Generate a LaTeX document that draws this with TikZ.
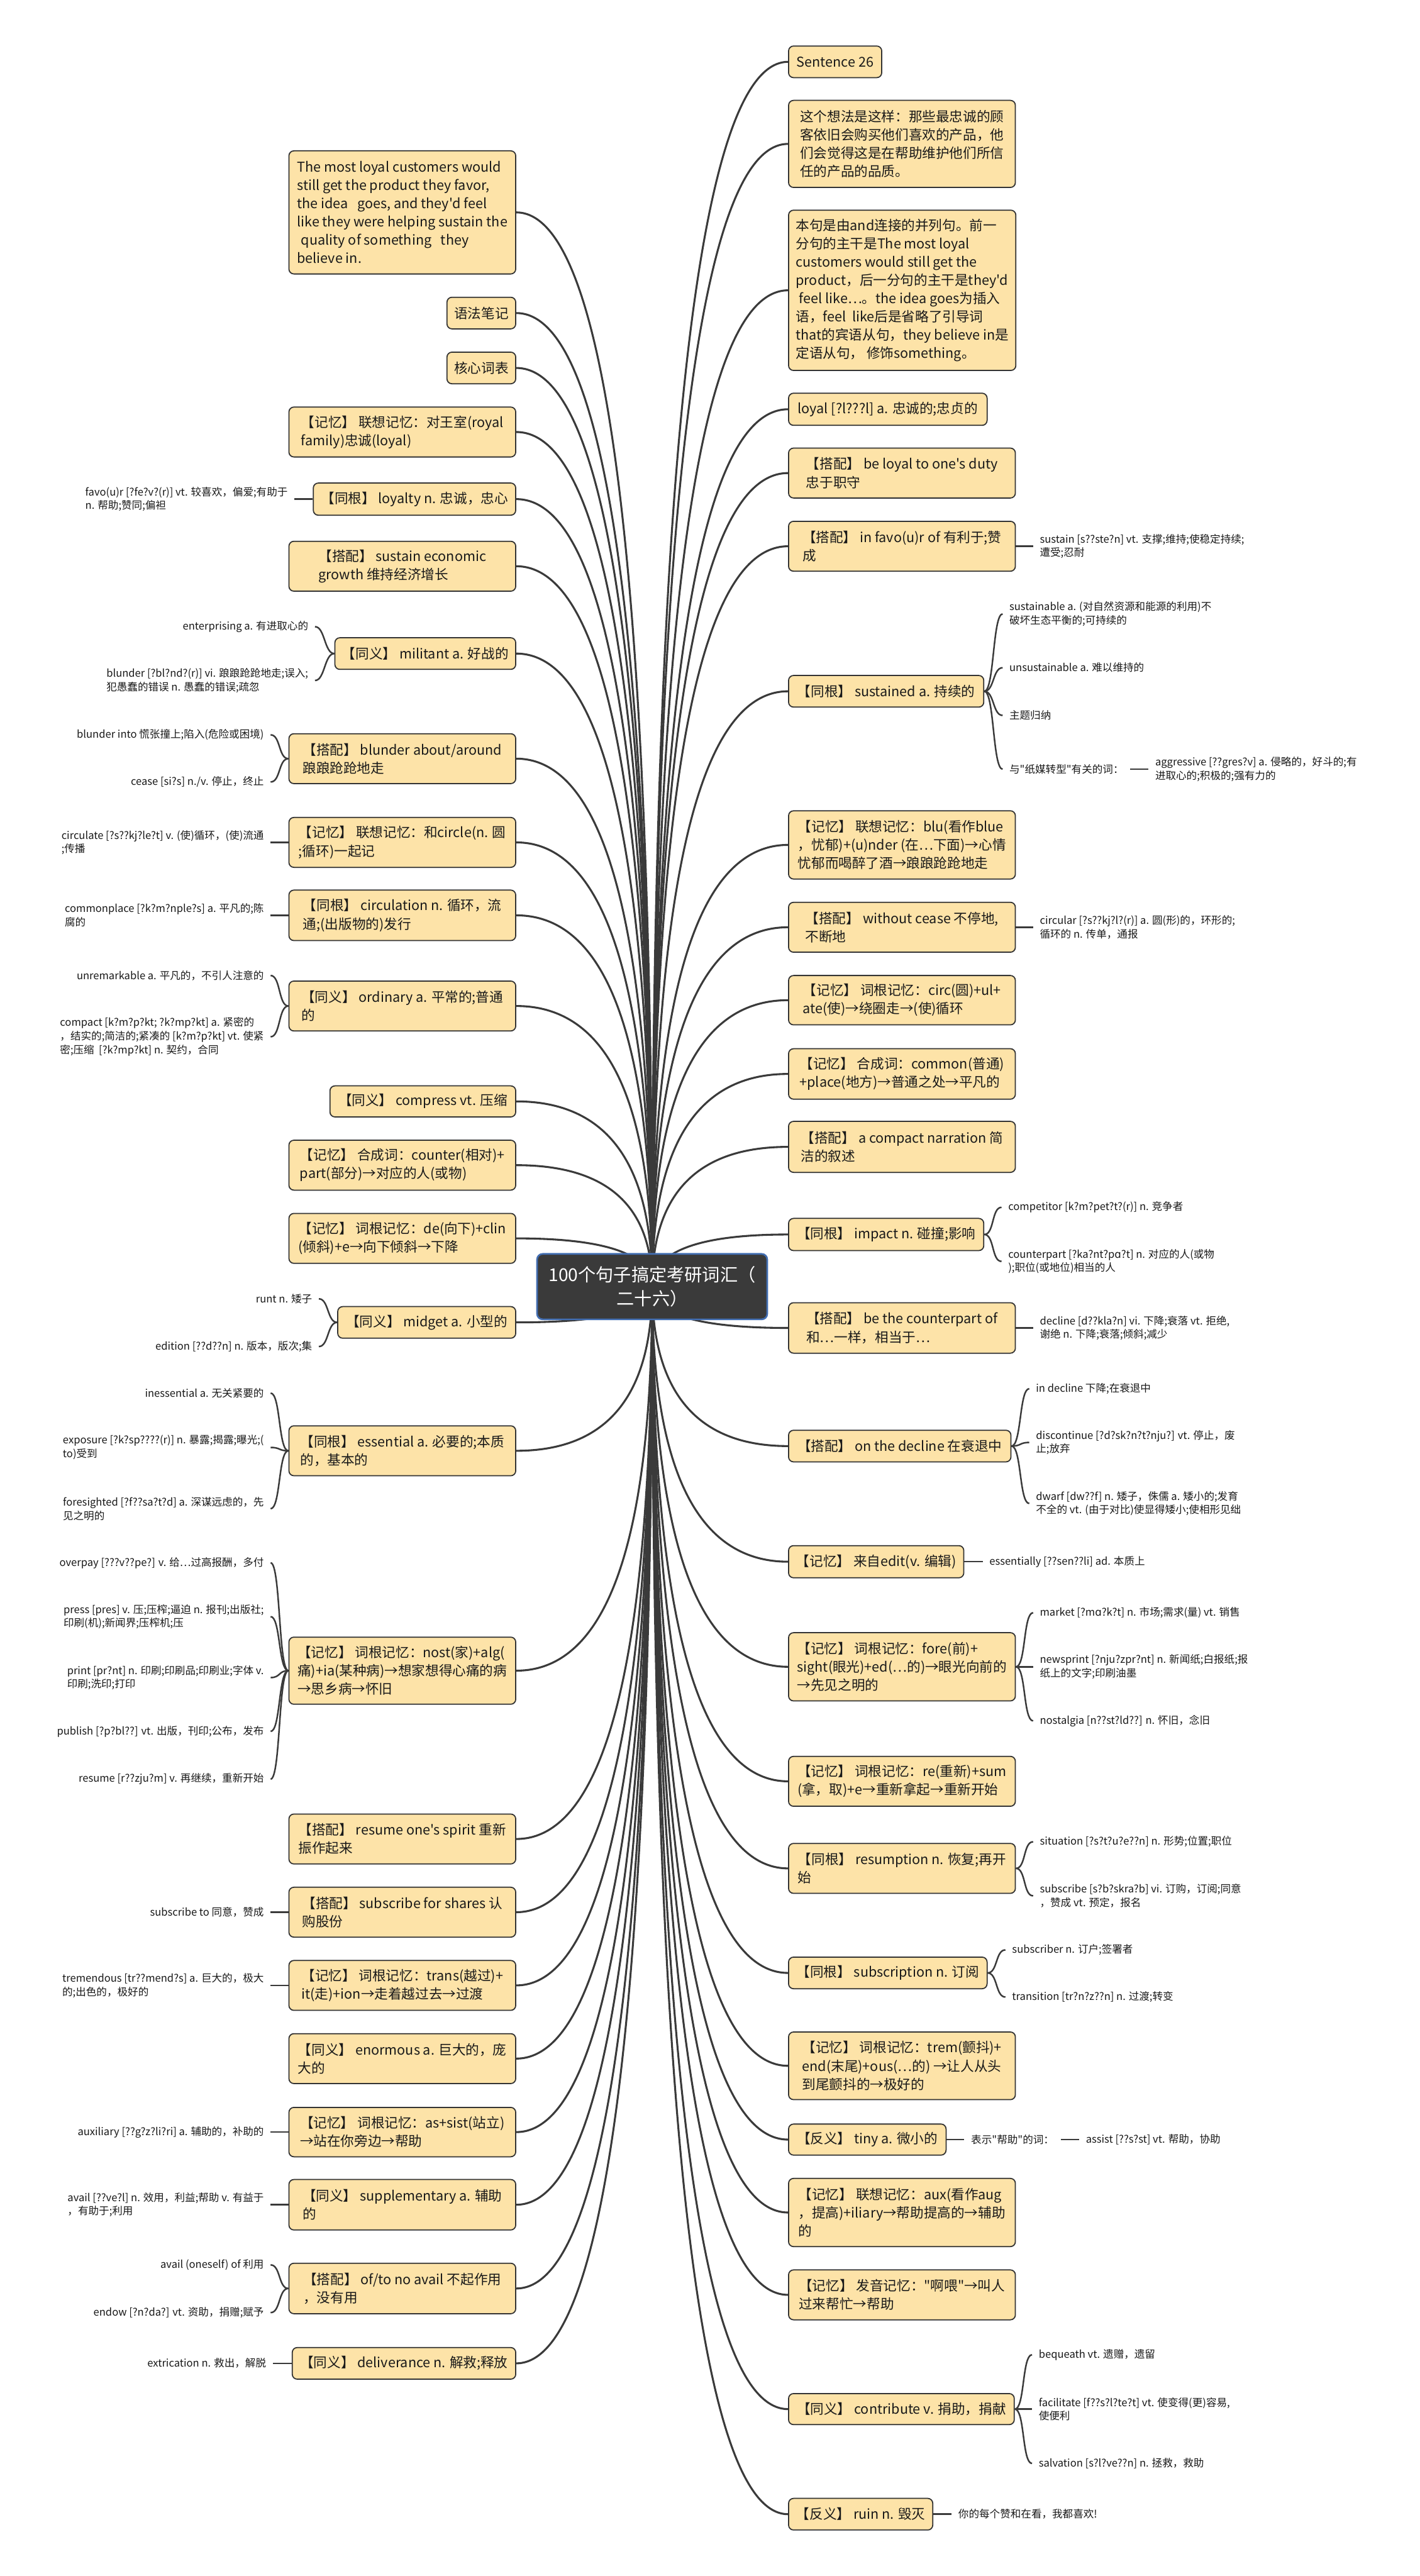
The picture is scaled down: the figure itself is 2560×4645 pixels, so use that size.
\documentclass[tikz,border=0pt]{standalone}
\usepackage{fontspec}
\setmainfont{Noto Sans CJK SC}[Ligatures=TeXOff]
\newfontfamily\ipa{DejaVu Sans}
\usetikzlibrary{calc}
\definecolor{boxfill}{RGB}{253,227,168}
\definecolor{boxline}{RGB}{51,51,51}
\definecolor{linecol}{RGB}{58,58,58}
\definecolor{rootfill}{RGB}{58,58,58}
\definecolor{rootline}{RGB}{66,110,178}
\definecolor{txt}{RGB}{25,25,25}
\pgfdeclarelayer{bg}
\pgfsetlayers{bg,main}
\tikzset{
  bx/.style={draw=boxline, line width=2pt, fill=boxfill, rounded corners=9pt, text=txt,
    font=\fontsize{24.5pt}{33pt}\selectfont, inner xsep=13pt, inner ysep=0pt, align=left},
  rb/.style={bx, anchor=west},
  lb/.style={bx, anchor=east},
  sz/.style 2 args={minimum width=#1pt, minimum height=#2pt},
  lf/.style={font=\fontsize{18.8pt}{24.7pt}\selectfont, text=txt, inner xsep=12pt, inner ysep=2pt, align=left},
  rl/.style={lf, anchor=west},
  ll/.style={lf, anchor=east},
  link/.style={draw=linecol, line width=3.5pt},
  llink/.style={draw=linecol, line width=2.8pt},
  rootst/.style={draw=rootline, line width=3pt, fill=rootfill, rounded corners=10pt, text=white,
    font=\fontsize{32pt}{43pt}\selectfont, align=center, minimum width=415pt, minimum height=118pt, inner sep=8pt}
}
\newcommand\trunk[1]{\draw[link] (root.center) .. controls ($(root.center)!0.6667!(root.center |- #1)$) and ($(#1)!0.6667!(root.center |- #1)$) .. (#1);}
\newcommand\lfr[2]{\draw[llink] (#1.east) .. controls +(18,0) and +(-18,0) .. (#2.west);}
\newcommand\lfl[2]{\draw[llink] (#1.west) .. controls +(-18,0) and +(18,0) .. (#2.east);}
\begin{document}
\begin{tikzpicture}[x=1pt,y=-1pt]
\useasboundingbox (0,0) rectangle (2560,4645);
\node[rootst] (root) at (1176,2320) {100个句子搞定考研词汇（\\二十六）};

% ---------- right boxes ----------
\node[rb,sz={168}{57}] (r1) at (1421,111.5) {Sentence 26};
\node[rb,sz={409}{157}] (r2) at (1421,259.5) {这个想法是这样：那些最忠诚的顾\\客依旧会购买他们喜欢的产品，他\\们会觉得这是在帮助维护他们所信\\任的产品的品质。};
\node[rb,sz={409}{289}] (r3) at (1421,523.5) {本句是由and连接的并列句。前一\\分句的主干是The most loyal\\customers would still get the\\product，后一分句的主干是they'd\\\hspace*{0.25em}feel like…。the idea goes为插入\\语，feel~~like后是省略了引导词\\that的宾语从句，they believe in是\\定语从句，~修饰something。};
\node[rb,sz={358}{58}] (r4) at (1421,738) {loyal [?l???l] a. 忠诚的;忠贞的};
\node[rb,sz={409}{90}] (r5) at (1421,853) {【搭配】 be loyal to one's duty\\忠于职守};
\node[rb,sz={409}{90}] (r6) at (1421,985) {【搭配】 in favo(u)r of 有利于;赞\\成};
\node[rb,sz={352}{57}] (r7) at (1421,1246.5) {【同根】 sustained a. 持续的};
\node[rb,sz={409}{123}] (r8) at (1421,1523.5) {【记忆】 联想记忆：blu(看作blue\\，忧郁)+(u)nder (在…下面)→心情\\忧郁而喝醉了酒→踉踉跄跄地走};
\node[rb,sz={409}{90}] (r9) at (1421,1672) {【搭配】 without cease 不停地,\\不断地};
\node[rb,sz={409}{89}] (r10) at (1421,1803.5) {【记忆】 词根记忆：circ(圆)+ul+\\ate(使)→绕圈走→(使)循环};
\node[rb,sz={409}{91}] (r11) at (1421,1936.5) {【记忆】 合成词：common(普通)\\+place(地方)→普通之处→平凡的};
\node[rb,sz={409}{92}] (r12) at (1421,2068) {【搭配】 a compact narration 简\\洁的叙述};
\node[rb,sz={352}{58}] (r13) at (1421,2226) {【同根】 impact n. 碰撞;影响};
\node[rb,sz={409}{91}] (r14) at (1421,2394.5) {【搭配】 be the counterpart of\\和…一样，相当于…};
\node[rb,sz={401}{57}] (r15) at (1421,2607.5) {【搭配】 on the decline 在衰退中};
\node[rb,sz={316}{58}] (r16) at (1421,2816) {【记忆】 来自edit(v. 编辑)};
\node[rb,sz={409}{123}] (r17) at (1421,3005.5) {【记忆】 词根记忆：fore(前)+\\sight(眼光)+ed(…的)→眼光向前的\\→先见之明的};
\node[rb,sz={409}{90}] (r18) at (1421,3212) {【记忆】 词根记忆：re(重新)+sum\\(拿，取)+e→重新拿起→重新开始};
\node[rb,sz={409}{90}] (r19) at (1421,3369) {【同根】 resumption n. 恢复;再开\\始};
\node[rb,sz={358}{57}] (r20) at (1421,3557.5) {【同根】 subscription n. 订阅};
\node[rb,sz={409}{122}] (r21) at (1421,3725) {【记忆】 词根记忆：trem(颤抖)+\\end(末尾)+ous(…的) →让人从头\\到尾颤抖的→极好的};
\node[rb,sz={284}{56}] (r22) at (1421,3858) {【反义】 tiny a. 微小的};
\node[rb,sz={409}{123}] (r23) at (1421,3989.5) {【记忆】 联想记忆：aux(看作aug\\，提高)+iliary→帮助提高的→辅助\\的};
\node[rb,sz={409}{90}] (r24) at (1421,4138) {【记忆】 发音记忆："啊喂"→叫人\\过来帮忙→帮助};
\node[rb,sz={407}{56}] (r25) at (1421,4344) {【同义】 contribute v. 捐助，捐献};
\node[rb,sz={260}{57}] (r26) at (1421,4533.5) {【反义】 ruin n. 毁灭};

% ---------- left boxes ----------
\node[lb,sz={409}{222}] (l1) at (931,383) {The most loyal customers would\\still get the product they favor,\\the idea~~~goes, and they'd feel\\like they were helping sustain the\\\hspace*{0.3em}quality of something~~~they\\believe in.};
\node[lb,sz={123}{57}] (l2) at (931,564.5) {语法笔记};
\node[lb,sz={123}{57}] (l3) at (931,663.5) {核心词表};
\node[lb,sz={409}{90}] (l4) at (931,779) {【记忆】 联想记忆：对王室(royal\\family)忠诚(loyal)};
\node[lb,sz={365}{58}] (l5) at (931,900) {【同根】 loyalty n. 忠诚，忠心};
\node[lb,sz={409}{90}] (l6) at (931,1021) {【搭配】 sustain economic\\growth 维持经济增长};
\node[lb,sz={326}{57}] (l7) at (931,1178.5) {【同义】 militant a. 好战的};
\node[lb,sz={409}{90}] (l8) at (931,1368) {【搭配】 blunder about/around\\踉踉跄跄地走};
\node[lb,sz={409}{90}] (l9) at (931,1519) {【记忆】 联想记忆：和circle(n. 圆\\;循环)一起记};
\node[lb,sz={409}{91}] (l10) at (931,1650.5) {【同根】 circulation n. 循环，流\\通;(出版物的)发行};
\node[lb,sz={409}{90}] (l11) at (931,1814) {【同义】 ordinary a. 平常的;普通\\的};
\node[lb,sz={335}{56}] (l12) at (931,1986) {【同义】 compress vt. 压缩};
\node[lb,sz={409}{90}] (l13) at (931,2101) {【记忆】 合成词：counter(相对)+\\part(部分)→对应的人(或物)};
\node[lb,sz={409}{90}] (l14) at (931,2233) {【记忆】 词根记忆：de(向下)+clin\\(倾斜)+e→向下倾斜→下降};
\node[lb,sz={321}{57}] (l15) at (931,2384.5) {【同义】 midget a. 小型的};
\node[lb,sz={409}{90}] (l16) at (931,2616) {【同根】 essential a. 必要的;本质\\的，基本的};
\node[lb,sz={409}{121}] (l17) at (931,3012.5) {【记忆】 词根记忆：nost(家)+alg(\\痛)+ia(某种病)→想家想得心痛的病\\→思乡病→怀旧};
\node[lb,sz={409}{90}] (l18) at (931,3316) {【搭配】 resume one's spirit 重新\\振作起来};
\node[lb,sz={409}{90}] (l19) at (931,3448) {【搭配】 subscribe for shares 认\\购股份};
\node[lb,sz={409}{90}] (l20) at (931,3580) {【记忆】 词根记忆：trans(越过)+\\it(走)+ion→走着越过去→过渡};
\node[lb,sz={409}{90}] (l21) at (931,3712) {【同义】 enormous a. 巨大的，庞\\大的};
\node[lb,sz={409}{89}] (l22) at (931,3844.5) {【记忆】 词根记忆：as+sist(站立)\\→站在你旁边→帮助};
\node[lb,sz={409}{91}] (l23) at (931,3975.5) {【同义】 supplementary a. 辅助\\的};
\node[lb,sz={409}{91}] (l24) at (931,4126.5) {【搭配】 of/to no avail 不起作用\\，没有用};
\node[lb,sz={403}{57}] (l25) at (931,4261.5) {【同义】 deliverance n. 解救;释放};

% ---------- right leaves ----------
\node[rl] (r6a) at (1863,985) {sustain [s??ste?n] vt. 支撑;维持;使稳定持续;\\遭受;忍耐};
\node[rl] (r7a) at (1808,1107) {sustainable a. (对自然资源和能源的利用)不\\破坏生态平衡的;可持续的};
\node[rl] (r7b) at (1808,1204) {unsustainable a. 难以维持的};
\node[rl] (r7c) at (1808,1290) {主题归纳};
\node[rl] (r7d) at (1808,1387) {与"纸媒转型"有关的词：};
\node[rl] (r7e) at (2071,1387) {aggressive [??gres?v] a. 侵略的，好斗的;有\\进取心的;积极的;强有力的};
\node[rl] (r9a) at (1863,1672) {circular [?s??kj?l?(r)] a. 圆(形)的，环形的;\\循环的 n. 传单，通报};
\node[rl] (r13a) at (1806,2177) {competitor [k?m?pet?t?(r)] n. 竞争者};
\node[rl] (r13b) at (1806,2274.5) {counterpart [?ka?nt?p{\ipa ɑ}?t] n. 对应的人(或物\\);职位(或地位)相当的人};
\node[rl] (r14a) at (1863,2394.5) {decline [d??kla?n] vi. 下降;衰落 vt. 拒绝,\\谢绝 n. 下降;衰落;倾斜;减少};
\node[rl] (r15a) at (1856,2504) {in decline 下降;在衰退中};
\node[rl] (r15b) at (1856,2601) {discontinue [?d?sk?n?t?nju?] vt. 停止，废\\止;放弃};
\node[rl] (r15c) at (1856,2711) {dwarf [dw??f] n. 矮子，侏儒 a. 矮小的;发育\\不全的 vt. (由于对比)使显得矮小;使相形见绌};
\node[rl] (r16a) at (1772,2816) {essentially [??sen??li] ad. 本质上};
\node[rl] (r17a) at (1863,2908) {market [?m{\ipa ɑ}?k?t] n. 市场;需求(量) vt. 销售};
\node[rl] (r17b) at (1863,3005.5) {newsprint [?nju?zpr?nt] n. 新闻纸;白报纸;报\\纸上的文字;印刷油墨};
\node[rl] (r17c) at (1863,3103) {nostalgia [n??st?ld??] n. 怀旧，念旧};
\node[rl] (r19a) at (1863,3321) {situation [?s?t?u?e??n] n. 形势;位置;职位};
\node[rl] (r19b) at (1863,3418.5) {subscribe [s?b?skra?b] vi. 订购，订阅;同意\\，赞成 vt. 预定，报名};
\node[rl] (r20a) at (1813,3516) {subscriber n. 订户;签署者};
\node[rl] (r20b) at (1813,3601) {transition [tr?n?z??n] n. 过渡;转变};
\node[rl] (r22a) at (1739,3858) {表示"帮助"的词：};
\node[rl] (r22b) at (1946,3858) {assist [??s?st] vt. 帮助，协助};
\node[rl] (r25a) at (1861,4246) {bequeath vt. 遗赠，遗留};
\node[rl] (r25b) at (1861,4344) {facilitate [f??s?l?te?t] vt. 使变得(更)容易,\\使便利};
\node[rl] (r25c) at (1861,4442) {salvation [s?l?ve??n] n. 拯救，救助};
\node[rl] (r26a) at (1716,4533.5) {你的每个赞和在看，我都喜欢!};

% ---------- left leaves ----------
\node[ll] (l5a) at (531,900) {favo(u)r [?fe?v?(r)] vt. 较喜欢，偏爱;有助于\\n. 帮助;赞同;偏袒};
\node[ll] (l7a) at (568,1130) {enterprising a. 有进取心的};
\node[ll] (l7b) at (568,1227) {blunder [?bl?nd?(r)] vi. 踉踉跄跄地走;误入;\\犯愚蠢的错误 n. 愚蠢的错误;疏忽};
\node[ll] (l8a) at (488,1325) {blunder into 慌张撞上;陷入(危险或困境)};
\node[ll] (l8b) at (488,1410) {cease [si?s] n./v. 停止，终止};
\node[ll] (l9a) at (488,1519) {circulate [?s??kj?le?t] v. (使)循环，(使)流通\\;传播};
\node[ll] (l10a) at (488,1650.5) {commonplace [?k?m?nple?s] a. 平凡的;陈\\腐的};
\node[ll] (l11a) at (488,1759) {unremarkable a. 平凡的，不引人注意的};
\node[ll] (l11b) at (488,1869.5) {compact [k?m?p?kt; ?k?mp?kt] a. 紧密的\\，结实的;简洁的;紧凑的 [k?m?p?kt] vt. 使紧\\密;压缩~~[?k?mp?kt] n. 契约，合同};
\node[ll] (l15a) at (575,2342) {runt n. 矮子};
\node[ll] (l15b) at (575,2428) {edition [??d??n] n. 版本，版次;集};
\node[ll] (l16a) at (488,2512) {inessential a. 无关紧要的};
\node[ll] (l16b) at (488,2610) {exposure [?k?sp????(r)] n. 暴露;揭露;曝光;(\\to)受到};
\node[ll] (l16c) at (488,2720.5) {foresighted [?f??sa?t?d] a. 深谋远虑的，先\\见之明的};
\node[ll] (l17a) at (488,2818) {overpay [???v??pe?] v. 给…过高报酬，多付};
\node[ll] (l17b) at (488,2915) {press [pres] v. 压;压榨;逼迫 n. 报刊;出版社;\\印刷(机);新闻界;压榨机;压};
\node[ll] (l17c) at (488,3025) {print [pr?nt] n. 印刷;印刷品;印刷业;字体 v.\\印刷;洗印;打印};
\node[ll] (l17d) at (488,3122) {publish [?p?bl??] vt. 出版，刊印;公布，发布};
\node[ll] (l17e) at (488,3208) {resume [r??zju?m] v. 再继续，重新开始};
\node[ll] (l19a) at (488,3448) {subscribe to 同意，赞成};
\node[ll] (l20a) at (488,3580) {tremendous [tr??mend?s] a. 巨大的，极大\\的;出色的，极好的};
\node[ll] (l22a) at (488,3844.5) {auxiliary [??g?z?li?ri] a. 辅助的，补助的};
\node[ll] (l23a) at (488,3975.5) {avail [??ve?l] n. 效用，利益;帮助 v. 有益于\\，有助于;利用};
\node[ll] (l24a) at (488,4084) {avail (oneself) of 利用};
\node[ll] (l24b) at (488,4170) {endow [?n?da?] vt. 资助，捐赠;赋予};
\node[ll] (l25a) at (492,4261.5) {extrication n. 救出，解脱};

% ---------- connectors ----------
\begin{pgfonlayer}{bg}
\fill[white] (0,0) rectangle (2560,4645);
\foreach \i in {1,...,26} {\trunk{r\i.west}}
\foreach \i in {1,...,25} {\trunk{l\i.east}}
\foreach \a/\b in {r6/r6a, r7/r7a, r7/r7b, r7/r7c, r7/r7d, r7d/r7e, r9/r9a, r13/r13a, r13/r13b, r14/r14a, r15/r15a, r15/r15b, r15/r15c, r16/r16a, r17/r17a, r17/r17b, r17/r17c, r19/r19a, r19/r19b, r20/r20a, r20/r20b, r22/r22a, r22a/r22b, r25/r25a, r25/r25b, r25/r25c, r26/r26a} {\lfr{\a}{\b}}
\foreach \a/\b in {l5/l5a, l7/l7a, l7/l7b, l8/l8a, l8/l8b, l9/l9a, l10/l10a, l11/l11a, l11/l11b, l15/l15a, l15/l15b, l16/l16a, l16/l16b, l16/l16c, l17/l17a, l17/l17b, l17/l17c, l17/l17d, l17/l17e, l19/l19a, l20/l20a, l22/l22a, l23/l23a, l24/l24a, l24/l24b, l25/l25a} {\lfl{\a}{\b}}
\end{pgfonlayer}
\end{tikzpicture}
\end{document}
